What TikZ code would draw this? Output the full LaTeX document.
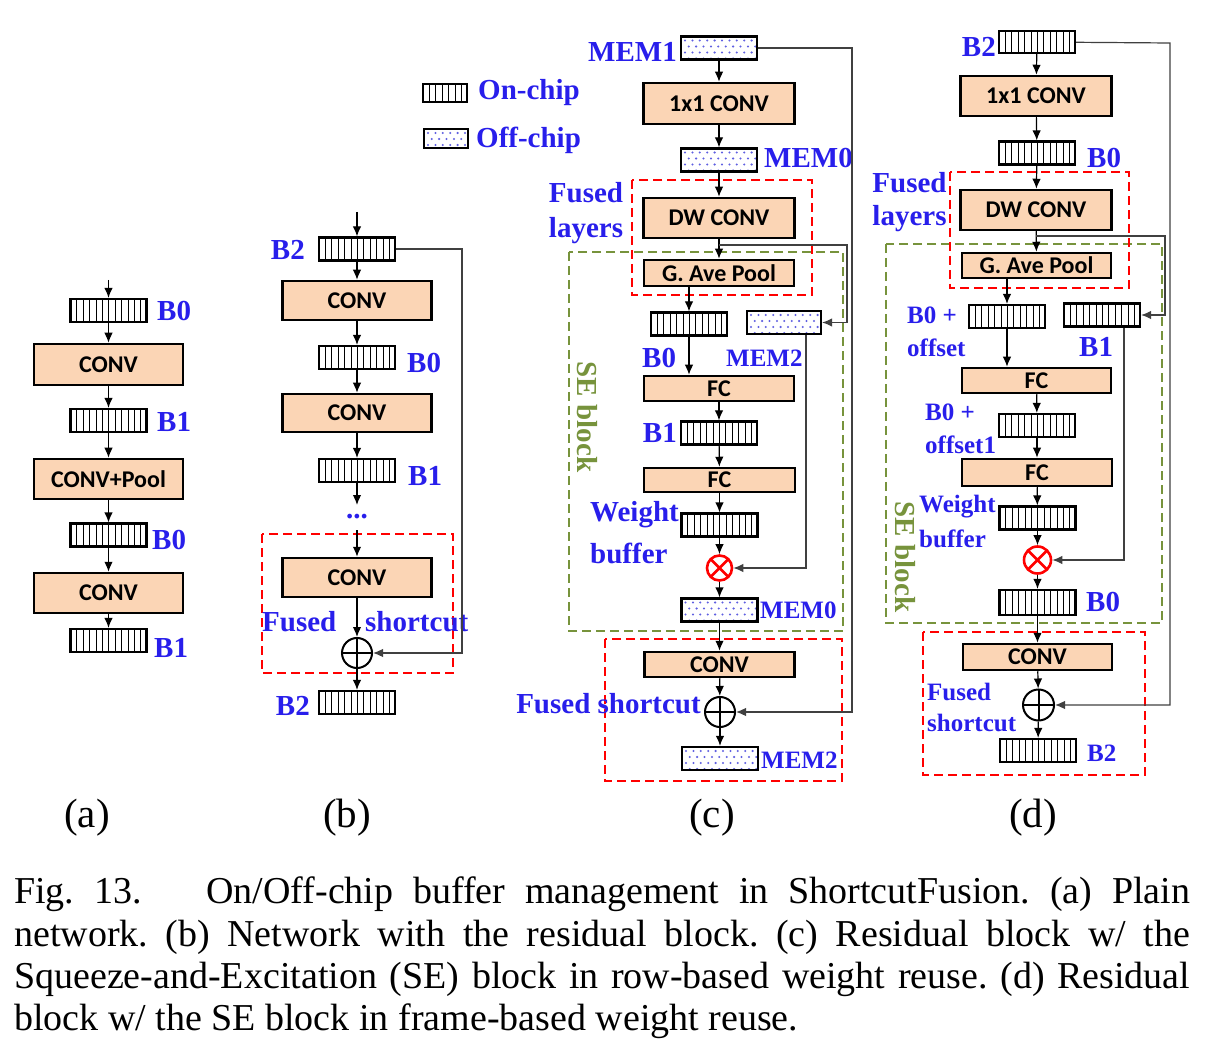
\documentclass[tikz,border=0pt]{standalone}
\usepackage{fontspec}
\setmainfont{Liberation Serif}
\newfontfamily\boxfont{Carlito}
\usetikzlibrary{arrows.meta,calc}
\definecolor{lblblue}{RGB}{40,30,235}
\definecolor{boxfill}{RGB}{251,213,181}
\definecolor{segreen}{RGB}{119,147,60}
\definecolor{dotblue}{RGB}{95,95,225}
\tolerance=9000
\hyphenpenalty=10000

\begin{document}
\begin{tikzpicture}[>={Latex[length=10pt,width=8.5pt]}, x=1pt, y=-1pt]
  \tikzstyle{every node}=[inner sep=0pt]
  \tikzstyle{layer}=[draw, line width=2.5pt, fill=boxfill, minimum width=149pt, font=\boxfont\bfseries\fontsize{24}{24}\selectfont]
  \tikzstyle{onchip}=[draw, line width=2.2pt, fill=white, minimum width=76pt, minimum height=23pt,
    path picture={\foreach \k in {1,...,14} \draw[line width=0.9pt] ([xshift=\k*6.4pt]path picture bounding box.north west) -- ([xshift=\k*6.4pt]path picture bounding box.south west);}]
  \tikzstyle{offchip}=[draw, line width=2.2pt, fill=white, minimum width=76pt, minimum height=23pt,
    path picture={\foreach \j/\o in {0/0,1/3.7,2/0,3/3.7} \foreach \k in {0,...,11} \fill[dotblue] ([xshift=4pt+\k*7.4pt+\o pt, yshift=-4pt-\j*6pt]path picture bounding box.north west) circle (1.15pt);}]
  \tikzstyle{addop}=[circle, draw, line width=2pt, minimum size=30pt,
    path picture={\draw[line width=2pt] (path picture bounding box.north) -- (path picture bounding box.south) (path picture bounding box.west) -- (path picture bounding box.east);}]
  \tikzstyle{mulop}=[circle, draw=red, line width=2.6pt, minimum size=25pt,
    path picture={\draw[red, line width=2.6pt] (path picture bounding box.north west) -- (path picture bounding box.south east) (path picture bounding box.north east) -- (path picture bounding box.south west);}]
  \tikzstyle{flow}=[->, line width=1.2pt]
  \tikzstyle{skip}=[->, line width=1.2pt, draw=black!75]
  \tikzstyle{fuse}=[draw=red, line width=2pt, dash pattern=on 9pt off 5pt]
  \tikzstyle{seblk}=[draw=segreen, line width=2pt, dash pattern=on 9pt off 5pt]
  \tikzstyle{lbl}=[text=lblblue, font=\bfseries\fontsize{29}{29}\selectfont]
  \tikzstyle{lbls}=[text=lblblue, font=\bfseries\fontsize{25}{25}\selectfont]
  \tikzstyle{selbl}=[text=segreen, rotate=-90, font=\bfseries\fontsize{29}{29}\selectfont]
  \tikzstyle{panel}=[font=\fontsize{41}{41}\selectfont]
  \useasboundingbox (0,0) rectangle (1216,1048);
  %%
  %% (a) plain network
  \coordinate (a_in) at (108.5,280);
  \node (a_b0) at (108.5,310.5) [onchip] {};
  \node (a_conv1) at (108.5,364.5) [layer, minimum height=41pt] {CONV};
  \node (a_b1) at (108.5,420.5) [onchip] {};
  \node (a_pool) at (108.5,479) [layer, minimum height=40pt] {CONV+Pool};
  \node (a_b2) at (108.5,535) [onchip] {};
  \node (a_conv2) at (108.5,593) [layer, minimum height=40pt] {CONV};
  \node (a_b3) at (108.5,640.5) [onchip] {};
  \node (a_l0) at (157,311) [lbl, anchor=west] {B0};
  \node (a_l1) at (157,422) [lbl, anchor=west] {B1};
  \node (a_l2) at (152,540) [lbl, anchor=west] {B0};
  \node (a_l3) at (154,648) [lbl, anchor=west] {B1};
  \draw [flow] (a_in) -- (a_b0);
  \draw [flow] (a_b0) -- (a_conv1);
  \draw [flow] (a_conv1) -- (a_b1);
  \draw [flow] (a_b1) -- (a_pool);
  \draw [flow] (a_pool) -- (a_b2);
  \draw [flow] (a_b2) -- (a_conv2);
  \draw [flow] (a_conv2) -- (a_b3);
  %%
  %% (b) residual block
  \draw [fuse] (262,534) rectangle (453,673);
  \coordinate (b_in) at (357,212);
  \node (b_b2) at (357,249) [onchip] {};
  \node (b_conv1) at (357,300.5) [layer, minimum height=39pt] {CONV};
  \node (b_b0) at (357,357.5) [onchip] {};
  \node (b_conv2) at (357,413) [layer, minimum height=38pt] {CONV};
  \node (b_b1) at (357,470.5) [onchip] {};
  \coordinate (b_d1) at (357,505);
  \node (b_dots) at (357,517) [lbl] {...};
  \coordinate (b_d2) at (357,530);
  \node (b_conv3) at (357,577.5) [layer, minimum height=39pt] {CONV};
  \node (b_add) at (357,653) [addop] {};
  \node (b_out) at (357,702.5) [onchip] {};
  \coordinate (b_r) at (462,249);
  \node (b_l0) at (305,250) [lbl, anchor=east] {B2};
  \node (b_l1) at (407,363) [lbl, anchor=west] {B0};
  \node (b_l2) at (408,476) [lbl, anchor=west] {B1};
  \node (b_l3) at (310,706) [lbl, anchor=east] {B2};
  \node (b_l4) at (262,622) [lbl, anchor=west] {Fused};
  \node (b_l5) at (365,622) [lbl, anchor=west] {shortcut};
  \draw [flow] (b_in) -- (b_b2);
  \draw [flow] (b_b2) -- (b_conv1);
  \draw [flow] (b_conv1) -- (b_b0);
  \draw [flow] (b_b0) -- (b_conv2);
  \draw [flow] (b_conv2) -- (b_b1);
  \draw [flow] (b_b1) -- (b_d1);
  \draw [flow] (b_d2) -- (b_conv3);
  \draw [flow] (b_conv3) -- (b_add);
  \draw [flow] (b_add) -- (b_out);
  \draw [skip] (b_b2) -- (b_r) |- (b_add);
  %%
  %% legend
  \node (lg_on) at (445,93) [onchip, minimum width=44pt, minimum height=18pt] {};
  \node (lg_onl) at (478,93) [lbl, anchor=west] {On-chip};
  \node (lg_off) at (446,138.5) [offchip, minimum width=44pt, minimum height=19pt] {};
  \node (lg_offl) at (476,140) [lbl, anchor=west] {Off-chip};
  %%
  %% (c) SE block, row-based weight reuse
  \draw [seblk] (569,252) rectangle (843,631);
  \draw [fuse] (632,180) rectangle (812,295);
  \draw [fuse] (605,639) rectangle (842,781);
  \node (c_mem1) at (719,48) [offchip] {};
  \node (c_conv1) at (719,103.5) [layer, minimum height=41pt, minimum width=151pt] {1x1 CONV};
  \node (c_mem0) at (719,160) [offchip] {};
  \node (c_dw) at (719,218) [layer, minimum height=40pt, minimum width=151pt] {DW CONV};
  \node (c_gap) at (719,273) [layer, minimum height=26pt, minimum width=150pt] {G. Ave Pool};
  \node (c_b0) at (689,324) [onchip] {};
  \node (c_mem2a) at (784,322.5) [offchip, minimum width=74pt] {};
  \node (c_fc1) at (719,388.5) [layer, minimum height=25pt, minimum width=150pt] {FC};
  \node (c_b1) at (719,433) [onchip] {};
  \node (c_fc2) at (719.5,480) [layer, minimum height=24pt, minimum width=151pt] {FC};
  \node (c_wb) at (719.5,525) [onchip] {};
  \node (c_mul) at (719.5,568) [mulop] {};
  \node (c_mem0b) at (719.5,610) [offchip] {};
  \node (c_conv2) at (719.5,664.5) [layer, minimum height=25pt, minimum width=150pt] {CONV};
  \node (c_add) at (720,712) [addop] {};
  \node (c_mem2b) at (720,758.5) [offchip] {};
  \coordinate (c_br) at (719,245);
  \coordinate (c_brr) at (847,245);
  \coordinate (c_r) at (852,48);
  \node (c_l0) at (677,52) [lbl, anchor=east] {MEM1};
  \node (c_l1) at (764,158) [lbl, anchor=west] {MEM0};
  \node (c_l2) at (586,193) [lbl] {Fused};
  \node (c_l3) at (586,231) [lbl] {layers};
  \node (c_l4) at (642,358) [lbl, anchor=west] {B0};
  \node (c_l5) at (726,358) [lbls, anchor=west] {MEM2};
  \node (c_l6) at (677,433) [lbl, anchor=east] {B1};
  \node (c_l7) at (590,515) [lbl, anchor=west] {Weight};
  \node (c_l8) at (590,553) [lbl, anchor=west] {buffer};
  \node (c_l9) at (760,610) [lbls, anchor=west] {MEM0};
  \node (c_l10) at (608.5,704) [lbl] {Fused shortcut};
  \node (c_l11) at (761,760) [lbls, anchor=west] {MEM2};
  \node (c_l12) at (587,417) [selbl] {SE block};
  \draw [flow] (c_mem1) -- (c_conv1);
  \draw [flow] (c_conv1) -- (c_mem0);
  \draw [flow] (c_mem0) -- (c_dw);
  \draw [flow] (c_dw) -- (c_gap);
  \draw [flow] (c_gap.south -| c_b0) -- (c_b0);
  \draw [flow] (c_b0) -- (c_b0 |- c_fc1.north);
  \draw [flow] (c_fc1) -- (c_b1);
  \draw [flow] (c_b1) -- (c_fc2);
  \draw [flow] (c_fc2) -- (c_wb);
  \draw [flow] (c_wb) -- (c_mul);
  \draw [flow] (c_mul) -- (c_mem0b);
  \draw [flow] (c_mem0b) -- (c_conv2);
  \draw [flow] (c_conv2) -- (c_add);
  \draw [flow] (c_add) -- (c_mem2b);
  \draw [skip] (c_br) -- (c_brr) |- (c_mem2a);
  \draw [skip] ([xshift=22pt]c_mem2a.south) |- (c_mul);
  \draw [skip] (c_mem1) -- (c_r) |- (c_add);
  %%
  %% (d) SE block, frame-based weight reuse
  \draw [seblk] (886,244) rectangle (1162,623);
  \draw [fuse] (950,172) rectangle (1129,288);
  \draw [fuse] (923,632) rectangle (1145,775);
  \node (d_b2) at (1037,42) [onchip, minimum height=22pt] {};
  \node (d_conv1) at (1036,96) [layer, minimum height=40pt, minimum width=151pt] {1x1 CONV};
  \node (d_b0) at (1037,153) [onchip] {};
  \node (d_dw) at (1036,210) [layer, minimum height=40pt, minimum width=151pt] {DW CONV};
  \node (d_gap) at (1036.5,265.5) [layer, minimum height=25pt] {G. Ave Pool};
  \node (d_b0o) at (1007,316.5) [onchip] {};
  \node (d_b1) at (1102,315) [onchip] {};
  \node (d_fc1) at (1036.5,380.5) [layer, minimum height=25pt] {FC};
  \node (d_b0o1) at (1037,425.5) [onchip] {};
  \node (d_fc2) at (1037,472.5) [layer, minimum height=27pt, minimum width=150pt] {FC};
  \node (d_wb) at (1037.5,518) [onchip] {};
  \node (d_mul) at (1037.5,560) [mulop, minimum size=27pt] {};
  \node (d_b0b) at (1037.5,602.5) [onchip, minimum height=25pt] {};
  \node (d_conv2) at (1037.5,657) [layer, minimum height=26pt] {CONV};
  \node (d_add) at (1038.5,705) [addop, minimum size=31pt] {};
  \node (d_out) at (1038,750.5) [onchip] {};
  \coordinate (d_br) at (1036,236);
  \coordinate (d_brr) at (1165,236);
  \coordinate (d_r) at (1170,43);
  \node (d_l0) at (996,47) [lbl, anchor=east] {B2};
  \node (d_l1) at (1087,158) [lbl, anchor=west] {B0};
  \node (d_l2) at (909.5,183) [lbl] {Fused};
  \node (d_l3) at (909.5,219) [lbl] {layers};
  \node (d_l4) at (907,315) [lbls, anchor=west] {B0 +};
  \node (d_l5) at (907,348) [lbls, anchor=west] {offset};
  \node (d_l6) at (1079,347) [lbl, anchor=west] {B1};
  \node (d_l7) at (925,412) [lbls, anchor=west] {B0 +};
  \node (d_l8) at (925,445) [lbls, anchor=west] {offset1};
  \node (d_l9) at (919,507) [lbls, anchor=west] {Weight};
  \node (d_l10) at (919,539) [lbls, anchor=west] {buffer};
  \node (d_l11) at (1086,602) [lbl, anchor=west] {B0};
  \node (d_l12) at (905,557) [selbl] {SE block};
  \node (d_l13) at (927,692) [lbls, anchor=west] {Fused};
  \node (d_l14) at (927,723) [lbls, anchor=west] {shortcut};
  \node (d_l15) at (1087,753) [lbls, anchor=west] {B2};
  \draw [flow] (d_b2) -- (d_conv1);
  \draw [flow] (d_conv1) -- (d_b0);
  \draw [flow] (d_b0) -- (d_dw);
  \draw [flow] (d_dw) -- (d_gap);
  \draw [flow] (d_gap.south -| d_b0o) -- (d_b0o);
  \draw [flow] (d_b0o) -- (d_b0o |- d_fc1.north);
  \draw [flow] (d_fc1) -- (d_b0o1);
  \draw [flow] (d_b0o1) -- (d_fc2);
  \draw [flow] (d_fc2) -- (d_wb);
  \draw [flow] (d_wb) -- (d_mul);
  \draw [flow] (d_mul) -- (d_b0b);
  \draw [flow] (d_b0b) -- (d_conv2);
  \draw [flow] (d_conv2) -- (d_add);
  \draw [flow] (d_add) -- (d_out);
  \draw [skip] (d_br) -- (d_brr) |- (d_b1);
  \draw [skip] ([xshift=22pt]d_b1.south) |- (d_mul);
  \draw [skip] (d_b2) -- (d_r) |- (d_add);
  %%
  %% sub-figure tags and caption
  \node (p_a) at (87,818) [panel] {(a)};
  \node (p_b) at (347,818) [panel] {(b)};
  \node (p_c) at (712,818) [panel] {(c)};
  \node (p_d) at (1033,818) [panel] {(d)};
  \node (cap) at (14,877) [anchor=north west, text width=1176pt, align=justify, font=\fontsize{38}{42.3}\selectfont\frenchspacing]
    {Fig.\ 13.\hspace{1.7em}On/Off-chip buffer management in ShortcutFusion. (a) Plain\linebreak
     network. (b) Network with the residual block. (c) Residual block w/ the\linebreak
     Squeeze-and-Excitation (SE) block in row-based weight reuse. (d) Residual\linebreak
     block w/ the SE block in frame-based weight reuse.};
\end{tikzpicture}
\end{document}
